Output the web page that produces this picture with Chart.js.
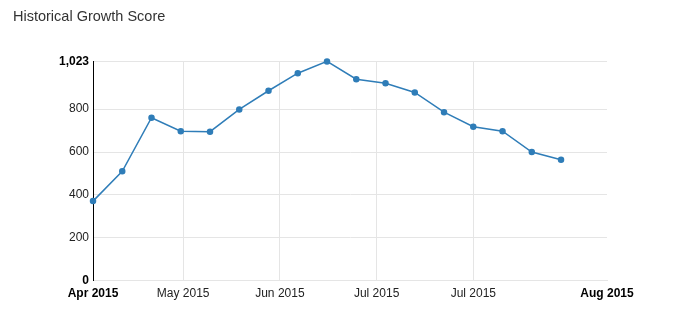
<!DOCTYPE html>
<html>
<head>
<meta charset="utf-8">
<script src="https://cdn.jsdelivr.net/npm/chart.js@4"></script>
<style>
  html, body { margin: 0; padding: 0; background: #fff; }
  #wrap { width: 690px; height: 321px; }
</style>
</head>
<body>
<div id="wrap"><canvas id="growth-chart"></canvas></div>
<script>
// Weekly growth scores
const weekDates = ['2015-04-27', '2015-05-04', '2015-05-11', '2015-05-18', '2015-05-25',
    '2015-06-01', '2015-06-08', '2015-06-15', '2015-06-22', '2015-06-29', '2015-07-06',
    '2015-07-13', '2015-07-20', '2015-07-27', '2015-08-03', '2015-08-10', '2015-08-17'];
const growthScores = [371, 510, 760, 697, 695, 799, 886, 968, 1023, 940, 921, 878, 786, 718, 697, 600, 564];

// Axis range and ticks
const axisStart = '2015-04-27';
const axisEnd = '2015-08-28';
const xTickStep = 2e9; // ms between the inner date ticks
const yTicks = [0, 200, 400, 600, 800, 1023];

const FONT = '"Liberation Sans", Arial, Helvetica, sans-serif';
const GRID = '#e5e5e5';

function toMs(d) {
    return Date.parse(d + 'T12:00:00Z');
}

function monthLabel(ms) {
    return new Date(ms).toLocaleString('en-US', { month: 'short', year: 'numeric', timeZone: 'UTC' });
}

const xMin = toMs(axisStart);
const xMax = toMs(axisEnd);

// axis ends plus every step in between (inner ticks too close to an end are dropped)
const xTicks = [xMin];
for (let v = Math.ceil(xMin / xTickStep) * xTickStep; v < xMax; v += xTickStep) {
    if (v - xMin > xTickStep / 2 && xMax - v > xTickStep / 2) {
        xTicks.push(v);
    }
}
xTicks.push(xMax);

const isEnd = (i, n) => i === 0 || i === n - 1;

const ctx = document.getElementById('growth-chart').getContext('2d');
new Chart(ctx, {
    type: 'line',
    data: {
        datasets: [{
            label: 'Growth Score',
            data: weekDates.map((d, i) => ({ x: toMs(d), y: growthScores[i] })),
            borderColor: '#2f7db8',
            backgroundColor: '#2f7db8',
            borderWidth: 1.5,
            pointRadius: 2.5,
            pointHoverRadius: 3,
            tension: 0,
            fill: false,
            clip: false
        }]
    },
    options: {
        responsive: true,
        maintainAspectRatio: false,
        animation: false,
        layout: {
            padding: { left: 13, right: 83, top: 0, bottom: 14 }
        },
        scales: {
            x: {
                type: 'linear',
                min: xMin,
                max: xMax,
                afterBuildTicks: (scale) => {
                    scale.ticks = xTicks.map(v => ({ value: v }));
                },
                ticks: {
                    autoSkip: false,
                    maxRotation: 0,
                    padding: 6,
                    color: (c) => isEnd(c.index, xTicks.length) ? '#000' : '#222',
                    font: (c) => ({
                        family: FONT,
                        size: 12,
                        weight: isEnd(c.index, xTicks.length) ? 'bold' : 'normal'
                    }),
                    callback: (value) => monthLabel(value)
                },
                grid: {
                    drawTicks: false,
                    color: (c) => isEnd(c.index, xTicks.length) ? 'rgba(0,0,0,0)' : GRID
                },
                border: { color: GRID }
            },
            y: {
                min: 0,
                max: 1023,
                afterBuildTicks: (scale) => {
                    scale.ticks = yTicks.map(v => ({ value: v }));
                },
                afterFit: (scale) => {
                    scale.width = 80;
                },
                ticks: {
                    padding: 4,
                    color: (c) => isEnd(c.index, yTicks.length) ? '#000' : '#222',
                    font: (c) => ({
                        family: FONT,
                        size: 12,
                        weight: isEnd(c.index, yTicks.length) ? 'bold' : 'normal'
                    }),
                    callback: (value) => value.toLocaleString('en-US')
                },
                grid: {
                    drawTicks: false,
                    color: GRID
                },
                border: { color: '#000' }
            }
        },
        plugins: {
            legend: { display: false },
            tooltip: { enabled: false },
            title: {
                display: true,
                text: 'Historical Growth Score',
                align: 'start',
                color: '#333',
                font: { family: FONT, size: 14.5, weight: 'normal' },
                padding: { top: 8, bottom: 36 }
            }
        }
    }
});
</script>
</body>
</html>
